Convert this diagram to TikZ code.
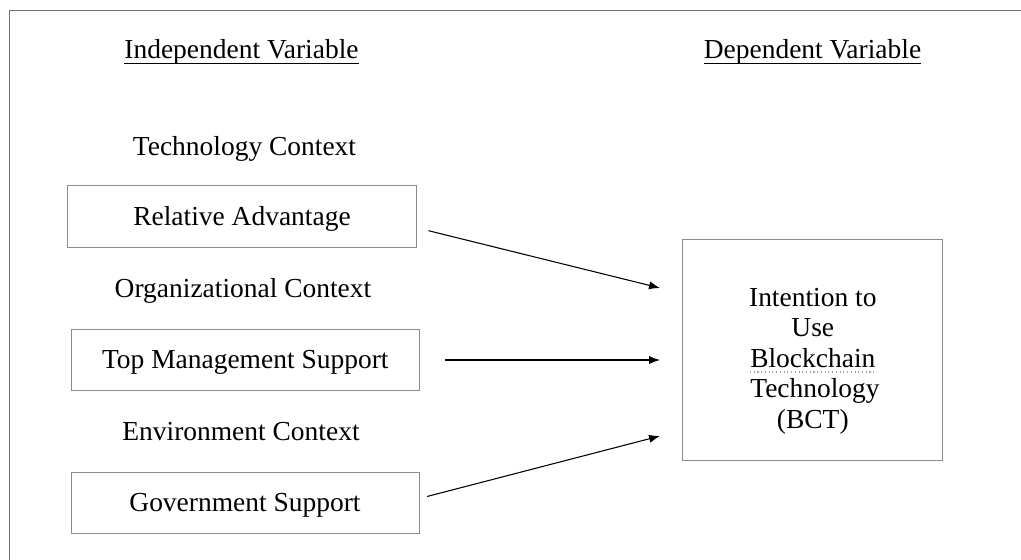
\documentclass[tikz,border=0pt]{standalone}
\usepackage{fontspec}
\setmainfont{Liberation Serif}
\usetikzlibrary{arrows.meta,calc}
\definecolor{framegray}{HTML}{707070}
\definecolor{boxgray}{HTML}{8C8C8C}
\begin{document}
\begin{tikzpicture}[x=0.75pt,y=-0.75pt,
  every node/.style={font=\fontsize{20.6pt}{22.9pt}\selectfont, inner sep=0pt},
  box/.style={draw=boxgray, line width=0.75pt, text height=13.5pt, text depth=0pt},
  lbl/.style={anchor=base},
  conn/.style={draw=black, line width=0.8pt, -{Latex[length=8.2pt,width=6.2pt]}},
  uline/.style={line width=0.9pt},
  spell/.style={draw=gray!70, dotted, line width=0.8pt}]
\useasboundingbox (0,0) rectangle (1021,560);
% frame
\draw[framegray, line width=1.1pt] (9.3,560) -- (9.3,10.3) -- (1021,10.3);
% headers
\node[lbl] (iv) at (241.5,59) {Independent Variable};
\draw[uline] ($(iv.base west)+(0,4.5)$) -- ($(iv.base east)+(0,4.5)$);
\node[lbl] (dv) at (812.5,59) {Dependent Variable};
\draw[uline] ($(dv.base west)+(0,4.5)$) -- ($(dv.base east)+(0,4.5)$);
% context labels
\node[lbl] (tc) at (244.5,156) {Technology Context};
\node[lbl] (oc) at (243,297) {Organizational Context};
\node[lbl] (ec) at (241,440) {Environment Context};
% boxes
\node[box, minimum width=262pt, minimum height=46.5pt] (ra) at (242,216.7) {Relative Advantage};
\node[box, minimum width=261pt, minimum height=46pt] (tms) at (245.3,359.7) {Top Management Support};
\node[box, minimum width=261pt, minimum height=46pt] (gs) at (245,502.7) {Government Support};
\node[box, minimum width=195.2pt, minimum height=166pt] (bct) at (812.8,350) {};
% text of dependent box
\node[lbl] (bct1) at (812.8,306) {Intention to};
\node[lbl] (bct2) at (812.8,336.5) {Use};
\node[lbl] (bct3) at (812.8,367) {Blockchain};
\node[lbl] (bct4) at (815,397.5) {Technology};
\node[lbl] (bct5) at (812.8,428) {(BCT)};
\draw[spell] ($(bct3.base west)+(0,5)$) -- ($(bct3.base east)+(0,5)$);
% connectors
\coordinate (raOut) at (428.5,230.7);
\coordinate (tmsOut) at (445,360);
\coordinate (gsOut) at (427,496.5);
\coordinate (bctIn1) at (660,288);
\coordinate (bctIn2) at (660,360);
\coordinate (bctIn3) at (660,436);
\draw[conn] (raOut) -- (bctIn1);
\draw[conn] (tmsOut) -- (bctIn2);
\draw[conn] (gsOut) -- (bctIn3);
\end{tikzpicture}
\end{document}
